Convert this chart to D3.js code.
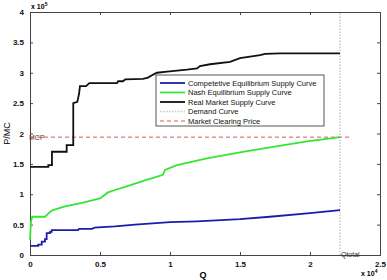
<!DOCTYPE html>
<html>
<head>
<meta charset="utf-8">
<script src="https://cdn.jsdelivr.net/npm/d3@7"></script>
<style>
  body { margin: 0; background: #fff; }
  text { font-family: "Liberation Sans", Arial, sans-serif; }
</style>
</head>
<body>
<div id="chart"></div>
<script>
// Supply curves vs market clearing price

// Pt. 0 - DATA  ([Q, price] pairs)

const competitive = [[0,15000],[590,15000],[590,17000],[840,17000],[840,22000],[1070,22000],[1070,26000],
  [1190,26000],[1190,36000],[1430,36000],[1430,38000],[1550,38000],[1550,41000],[3430,41000],[3500,43000],
  [4430,43000],[4600,45000],[6070,47000],[7500,50000],[10000,54000],[11930,55500],[15000,59000],
  [17140,63000],[20000,69000],[22140,74000]];

const nash = [[0,25000],[70,55000],[160,63000],[1070,63000],[1210,66000],[1430,71000],[1640,74000],
  [2500,80000],[3710,86000],[4430,90000],[5000,93000],[5570,103000],[6070,107000],[6790,112000],
  [8210,123000],[9500,132000],[9640,140000],[10500,148000],[12640,159000],[15000,169000],
  [17360,178000],[19790,187000],[22140,194000]];

const realMarket = [[0,145000],[1310,145000],[1310,148000],[1570,148000],[1570,170000],[2620,170000],
  [2620,181000],[3090,181000],[3090,250000],[3380,252000],[3500,265000],[3570,278000],[4000,278000],
  [4240,283000],[6210,283000],[6300,286000],[6640,286000],[6800,289000],[8070,290000],[8430,292000],
  [8800,297000],[9070,300000],[9790,302000],[11210,305000],[11930,307000],[12140,311000],
  [12860,314000],[14290,318000],[15000,324000],[16430,329000],[16790,331000],[17860,332000],
  [22140,332000]];

const qTotal = 22140;
const mcp = 194000;
const mcpEnd = 23000;

const xTicks = [0, 5000, 10000, 15000, 20000, 25000];
const yTicks = [0, 50000, 100000, 150000, 200000, 250000, 300000, 350000, 400000];

const legendNames = ["Competetive Equilibrium Supply Curve", "Nash Equilibrium Supply Curve",
  "Real Market Supply Curve", "Demand Curve", "Market Clearing Price"];

// Pt. 1 - LAYOUT

const width = 387, height = 280,
      margin = ({ top: 12, right: 7, bottom: 25, left: 30 });

let svg = d3.select("#chart").append("svg")
    .attr("width", width).attr("height", height)
    .attr("viewBox", [0, 0, width, height]);

let x = d3.scaleLinear().domain([0, 25000]).range([margin.left, width - margin.right]);
let y = d3.scaleLinear().domain([0, 400000]).range([height - margin.bottom, margin.top]);

const fmt = d => d3.format("~g")(d);
const axisColor = "#444";

// Pt. 2 - AXES (box with inward ticks)

let gx = svg.append("g").attr("transform", `translate(0,${y(0)})`)
    .call(d3.axisBottom(x).tickValues(xTicks).tickSize(-3).tickPadding(6).tickFormat(d => fmt(d / 1e4)));
let gxTop = svg.append("g").attr("transform", `translate(0,${y(400000)})`)
    .call(d3.axisTop(x).tickValues(xTicks).tickSize(-3).tickFormat(""));
let gy = svg.append("g").attr("transform", `translate(${x(0)},0)`)
    .call(d3.axisLeft(y).tickValues(yTicks).tickSize(-3).tickPadding(6).tickFormat(d => fmt(d / 1e5)));
let gyRight = svg.append("g").attr("transform", `translate(${x(25000)},0)`)
    .call(d3.axisRight(y).tickValues(yTicks).tickSize(-3).tickFormat(""));

for (let g of [gx, gxTop, gy, gyRight]) {
    g.select(".domain").attr("stroke", axisColor);
    g.selectAll(".tick line").attr("stroke", axisColor);
    g.selectAll(".tick text").attr("fill", "#111").style("font-size", "8px").style("font-weight", "bold");
}

// Pt. 3 - LINES

let line = d3.line().x(d => x(d[0])).y(d => y(d[1]));

// demand curve (vertical dotted)
svg.append("line")
    .attr("x1", x(qTotal)).attr("x2", x(qTotal))
    .attr("y1", y(0)).attr("y2", y(400000))
    .attr("stroke", "#c8c8c8").attr("stroke-width", 1.5).attr("stroke-dasharray", "1.5,1.5");

// market clearing price (dashed red)
svg.append("line")
    .attr("x1", x(0)).attr("x2", x(mcpEnd))
    .attr("y1", y(mcp)).attr("y2", y(mcp))
    .attr("stroke", "#e05555").attr("stroke-width", 1).attr("stroke-dasharray", "4,3");

const series = [
    { data: competitive, color: "#1c1ca8" },
    { data: nash, color: "#33e633" },
    { data: realMarket, color: "#111" }
];

svg.selectAll(".curve")
    .data(series)
    .join("path")
    .attr("class", "curve")
    .attr("fill", "none")
    .attr("stroke", d => d.color)
    .attr("stroke-width", 1.8)
    .attr("d", d => line(d.data));

// Pt. 4 - TEXT LABELS

svg.append("text").text("MCP")
    .attr("x", x(0) - 1).attr("y", y(mcp) + 3)
    .style("font-size", "7px").attr("fill", "#5a3030");

svg.append("text").text("Qtotal")
    .attr("x", x(qTotal) + 1).attr("y", y(0) + 2)
    .style("font-size", "7px").attr("fill", "#333");

svg.append("text").text("Q")
    .attr("x", 203).attr("y", 278).attr("text-anchor", "middle")
    .style("font-size", "9px").style("font-weight", "bold");

svg.append("text")
    .attr("transform", `translate(10,${(y(0) + y(400000)) / 2}) rotate(-90)`)
    .attr("text-anchor", "middle")
    .style("font-size", "9px")
    .text("P/MC");

let ex = svg.append("text").attr("x", 361).attr("y", 276).style("font-size", "7px").style("font-weight", "bold");
ex.append("tspan").text("x 10");
ex.append("tspan").text("4").attr("dy", -3).style("font-size", "5px");

let ey = svg.append("text").attr("x", 31).attr("y", 9).style("font-size", "7px").style("font-weight", "bold");
ey.append("tspan").text("x 10");
ey.append("tspan").text("5").attr("dy", -3).style("font-size", "5px");

// Pt. 5 - LEGEND

let legend = svg.append("g").attr("transform", "translate(156,75)");
legend.append("rect")
    .attr("width", 168).attr("height", 51)
    .attr("fill", "#fff").attr("stroke", "#555").attr("stroke-width", 1);

const legendStyle = [
    { color: "#1c1ca8", dash: null, w: 1.8 },
    { color: "#33e633", dash: null, w: 1.8 },
    { color: "#111", dash: null, w: 1.8 },
    { color: "#c8c8c8", dash: "1.5,1.5", w: 1.5 },
    { color: "#e05555", dash: "4,3", w: 1 }
];

let item = legend.selectAll(".item")
    .data(legendNames)
    .join("g")
    .attr("class", "item")
    .attr("transform", (d, i) => `translate(0,${8 + i * 9.5})`);

item.append("line")
    .attr("x1", 4).attr("x2", 29)
    .attr("stroke", (d, i) => legendStyle[i].color)
    .attr("stroke-width", (d, i) => legendStyle[i].w)
    .attr("stroke-dasharray", (d, i) => legendStyle[i].dash);

item.append("text")
    .text(d => d)
    .attr("x", 32).attr("y", 2.7)
    .style("font-size", "7.5px")
    .attr("fill", "#111");
</script>
</body>
</html>
